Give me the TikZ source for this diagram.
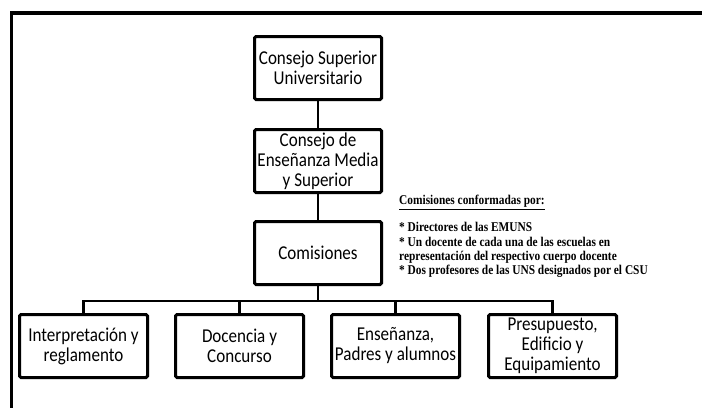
\documentclass[tikz,border=0pt]{standalone}
\usepackage{fontspec}
\setmainfont{Carlito}[FakeStretch=0.87]
\newfontfamily\notefont{Liberation Serif}[FakeStretch=0.85]
\usepackage{tikz}
\usetikzlibrary{shadows}

\begin{document}
\begin{tikzpicture}[x=1pt,y=-1pt,
  box/.style={draw,line width=3pt,rounded corners=1.5pt,fill=white,
    minimum width=127pt,minimum height=63pt,inner sep=0pt,align=center,
    font=\fontsize{19.6}{20}\selectfont,
    drop shadow={opacity=0.25,shadow xshift=1.5pt,shadow yshift=-1.5pt}},
  link/.style={line width=2.2pt}]
\useasboundingbox (0,0) rectangle (702,408);

% Frame
\draw[line width=4pt] (10,13) -- (702,13);
\draw[line width=2.5pt] (11.25,11) -- (11.25,408);

% Upper levels
\node[box] (csu) at (318,68) {Consejo Superior\\Universitario};
\node[box] (cems) at (318,161) {Consejo de\\Ense\~nanza Media\\y Superior};
\node[box] (com) at (318,253) {Comisiones};

% Commissions
\node[box,minimum width=128pt] (interp) at (83.5,346) {Interpretaci\'on y\\reglamento};
\node[box,minimum width=128pt] (doc) at (239.5,346) {Docencia y\\Concurso};
\node[box,minimum width=128pt] (ens) at (395.5,346) {Ense\~nanza,\\Padres y alumnos};
\node[box,minimum width=128pt] (presu) at (552.5,346) {Presupuesto,\\Edificio y\\Equipamiento};

% Connectors
\coordinate (bus) at (318,301);
\draw[link] (csu) -- (cems);
\draw[link] (cems) -- (com);
\draw[link] (com) -- (bus);
\draw[link] (interp) |- (bus) -| (presu);
\draw[link] (doc) -- (doc |- bus);
\draw[link] (ens) -- (ens |- bus);

% Note
\node[anchor=north west,inner sep=0pt,align=left,
  font=\notefont\bfseries\fontsize{13.4}{14.3}\selectfont] (note) at (399,195)
  {\underline{Comisiones conformadas por:}\\[13pt]
   * Directores de las EMUNS\\
   * Un docente de cada una de las escuelas en\\
   representaci\'on del respectivo cuerpo docente\\
   * Dos profesores de las UNS designados por el CSU};
\end{tikzpicture}
\end{document}
